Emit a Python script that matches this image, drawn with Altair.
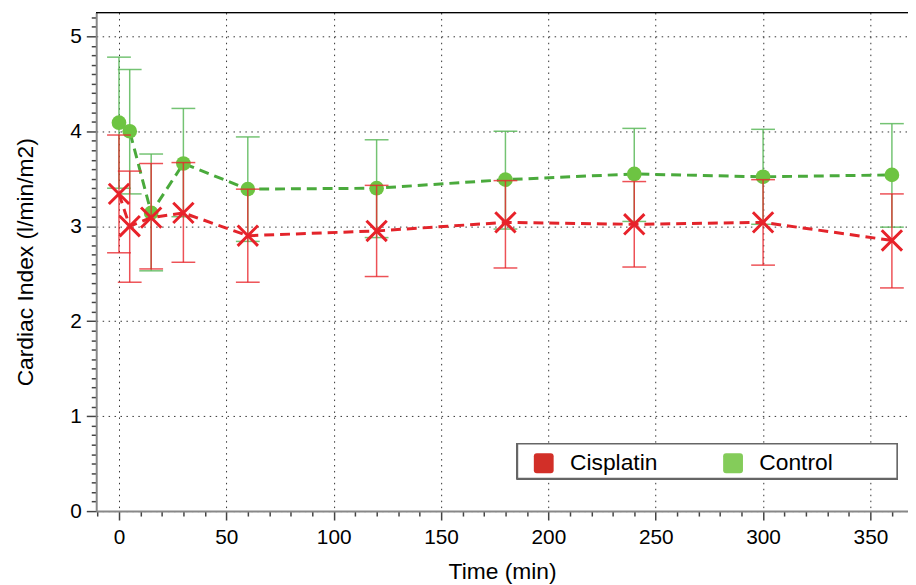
import altair as alt
import pandas as pd

# ---- data ----
times = [0, 5, 15, 30, 60, 120, 180, 240, 300, 360]
cis_mean = [3.34, 3.00, 3.09, 3.14, 2.90, 2.95, 3.04, 3.02, 3.04, 2.85]
cis_lo = [2.72, 2.41, 2.55, 2.62, 2.41, 2.47, 2.56, 2.57, 2.59, 2.35]
cis_hi = [3.96, 3.58, 3.66, 3.67, 3.39, 3.43, 3.48, 3.47, 3.49, 3.34]
ctl_mean = [4.09, 4.00, 3.14, 3.66, 3.39, 3.40, 3.49, 3.55, 3.52, 3.54]
ctl_lo = [3.40, 3.34, 2.53, 3.10, 2.84, 2.88, 2.97, 3.05, 3.02, 2.99]
ctl_hi = [4.78, 4.65, 3.76, 4.24, 3.94, 3.91, 4.00, 4.03, 4.02, 4.08]
groups = ["Cisplatin", "Control"]

rows = []
for g, m, lo, hi in [("Cisplatin", cis_mean, cis_lo, cis_hi), ("Control", ctl_mean, ctl_lo, ctl_hi)]:
    for t, a, b, c in zip(times, m, lo, hi):
        rows.append({"time": t, "group": g, "mean": a, "lo": b, "hi": c})
df = pd.DataFrame(rows)

FONT = "Liberation Sans"
W, H = 819, 503

x_ticks = list(range(-10, 370, 10))
y_ticks = [round(i * 0.1, 1) for i in range(53)]

xscale = alt.Scale(domain=[-10.6, 367.5], nice=False, zero=False)
yscale = alt.Scale(domain=[0, 5.25], nice=False, zero=False)

x_major = "datum.value % 50 === 0"
y_major = "abs(datum.value - round(datum.value)) < 0.001"

x_axis = alt.Axis(
    title="Time (min)", values=x_ticks, tickCount=200,
    labelExpr="(datum.value % 50 === 0 && datum.value >= 0) ? datum.label : ''",
    labelOverlap=False, labelFlush=False,
    labelFont=FONT, labelFontSize=21, labelColor="black", labelPadding=7,
    titleFont=FONT, titleFontSize=23, titleFontWeight="normal", titleColor="black", titlePadding=13,
    domainColor="#888888", domainWidth=2,
    tickColor="#444444", tickWidth=1.5,
    tickSize={"condition": {"test": x_major, "value": 9}, "value": 5},
    grid=True, gridColor="#333333", gridDash=[1.5, 4.5], gridWidth=1,
    gridOpacity={"condition": {"test": x_major, "value": 1}, "value": 0},
)
y_axis = alt.Axis(
    title="Cardiac Index (l/min/m2)", values=y_ticks, tickCount=200,
    labelExpr="abs(datum.value - round(datum.value)) < 0.001 ? format(datum.value, 'd') : ''",
    labelOverlap=False, labelFlush=False,
    labelFont=FONT, labelFontSize=21, labelColor="black", labelPadding=5,
    titleFont=FONT, titleFontSize=23, titleFontWeight="normal", titleColor="black", titlePadding=33,
    domainColor="#888888", domainWidth=2,
    tickColor="#444444", tickWidth=1.5,
    tickSize={"condition": {"test": y_major, "value": 10}, "value": 5},
    grid=True, gridColor="#333333", gridDash=[1.5, 4.5], gridWidth=1,
    gridOpacity={"condition": {"test": y_major, "value": 1}, "value": 0},
)

base = alt.Chart(df)
X = alt.X("time:Q", scale=xscale, axis=x_axis)
XN = alt.X("time:Q", scale=xscale)


def layers_for(group, bar_col, bar_op, line_col, mark):
    d = base.transform_filter(alt.datum.group == group)
    bars = d.mark_rule(color=bar_col, opacity=bar_op, strokeWidth=1.5).encode(
        x=XN, y=alt.Y("lo:Q", scale=yscale), y2="hi:Q")
    cap_lo = d.mark_tick(color=bar_col, opacity=bar_op, orient="horizontal", size=24, thickness=1.5).encode(
        x=XN, y=alt.Y("lo:Q", scale=yscale))
    cap_hi = d.mark_tick(color=bar_col, opacity=bar_op, orient="horizontal", size=24, thickness=1.5).encode(
        x=XN, y=alt.Y("hi:Q", scale=yscale))
    line = d.mark_line(color=line_col, strokeWidth=3, strokeDash=[10, 6]).encode(
        x=XN, y=alt.Y("mean:Q", scale=yscale))
    return [bars, cap_lo, cap_hi, line, mark(d)]


green_layers = layers_for(
    "Control", "#5cb85a", 0.85, "#4aaa3c",
    lambda d: d.mark_point(shape="circle", filled=True, size=220, color="#6dc442", opacity=1).encode(
        x=XN, y=alt.Y("mean:Q", scale=yscale)))
red_layers = layers_for(
    "Cisplatin", "#e8262c", 0.8, "#e3242b",
    lambda d: d.mark_point(shape="M-1,-1L1,1M-1,1L1,-1", filled=False, size=420, color="#e8222a",
                           strokeWidth=3, opacity=1).encode(
        x=XN, y=alt.Y("mean:Q", scale=yscale)))

rounded_sq = "M-0.7,-1H0.7Q1,-1 1,-0.7V0.7Q1,1 0.7,1H-0.7Q-1,1 -1,0.7V-0.7Q-1,-1 -0.7,-1Z"
legend_layer = base.mark_point(filled=True, opacity=0, size=10).encode(
    x=X,
    y=alt.Y("mean:Q", scale=yscale, axis=y_axis),
    color=alt.Color(
        "group:N",
        scale=alt.Scale(domain=groups, range=["#d22f28", "#84cc5a"]),
        legend=alt.Legend(
            title=None, orient="none", legendX=433, legendY=436, direction="horizontal",
            symbolType=rounded_sq, symbolSize=400, symbolStrokeWidth=0, symbolOpacity=1,
            labelFont=FONT, labelFontSize=23, labelColor="black", labelOffset=15,
            columnPadding=64, padding=7,
        ),
    ),
)

# legend frame (decoration)
legend_box = alt.Chart(df).mark_rect(fill="white", stroke="#666666", strokeWidth=1.5).encode(
    x=alt.value(425), x2=alt.value(808), y=alt.value(435), y2=alt.value(470))

top_line = alt.Chart(df).mark_rule(color="black", strokeWidth=1).encode(
    x=alt.value(0), x2=alt.value(W), y=alt.value(0))

chart = alt.layer(
    legend_layer, *green_layers, *red_layers, legend_box, top_line
).properties(
    width=W, height=H,
    autosize=alt.AutoSizeParams(type="none"),
    padding={"left": 89, "top": 2, "right": 0, "bottom": 72},
).configure_view(strokeWidth=0).configure(background="white")

chart.save("out.html", embed_options={"renderer": "svg", "actions": False})
